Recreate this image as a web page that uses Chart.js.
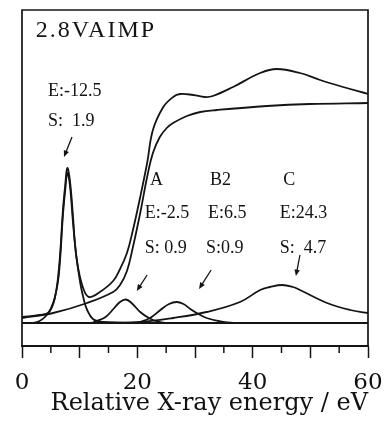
<!DOCTYPE html>
<html><head><meta charset="utf-8">
<script src="https://cdn.jsdelivr.net/npm/chart.js@4.4.1/dist/chart.umd.min.js"></script>
<style>html,body{margin:0;padding:0;background:#fff}#wrap{width:386px;height:424px}</style>
</head><body><div id="wrap"><canvas id="c" width="386" height="424"></canvas></div>
<script>
// ---- data ----
const xSpectrum = [0, 3.1, 4.5, 5.2, 5.7, 6.2, 6.6, 7.1, 7.5, 7.85, 8.3, 8.85, 9.2, 9.7, 10.6, 11.6, 13.5, 15.8, 17.0, 18.2, 19.2, 20.5, 21.7, 22.7, 24.5, 26.2, 27.4, 29.7, 31.7, 33.1, 36.6, 41.3, 44.2, 48.2, 51.7, 55.7, 60];
const ySpectrum = [0.06, 0.08, 0.10, 0.16, 0.25, 0.43, 0.68, 1.13, 1.38, 1.55, 1.43, 1.06, 0.78, 0.56, 0.35, 0.26, 0.31, 0.42, 0.54, 0.70, 0.92, 1.26, 1.60, 1.93, 2.16, 2.26, 2.29, 2.28, 2.26, 2.27, 2.36, 2.50, 2.54, 2.50, 2.43, 2.36, 2.29];

const xStep = [0, 5.4, 11.3, 15.8, 17.0, 18.2, 19.2, 20.5, 21.7, 22.7, 23.9, 25.1, 26.2, 28.6, 30.9, 33.8, 42.5, 49.9, 60];
const yStep = [0.05, 0.10, 0.20, 0.31, 0.38, 0.52, 0.75, 1.10, 1.46, 1.70, 1.86, 1.95, 2.00, 2.07, 2.11, 2.13, 2.17, 2.19, 2.20];

const xPeak = [0, 2.6, 4.3, 5.4, 6.2, 6.6, 7.1, 7.5, 7.85, 8.3, 8.85, 9.4, 10.1, 10.7, 11.3, 12.3, 14, 20];
const yPeak = [0, 0.01, 0.08, 0.20, 0.40, 0.63, 1.08, 1.33, 1.50, 1.38, 1.00, 0.68, 0.40, 0.24, 0.13, 0.04, 0.01, 0];

const xPeakA = [12, 13, 14.5, 16, 17, 18, 19, 20.5, 22, 23.5, 25];
const yPeakA = [0, 0.02, 0.06, 0.15, 0.21, 0.235, 0.20, 0.11, 0.05, 0.015, 0];

const xPeakB2 = [20, 22.2, 24, 25.5, 26.8, 28, 29.2, 30.3, 32, 34.9, 37];
const yPeakB2 = [0, 0.05, 0.13, 0.19, 0.21, 0.19, 0.14, 0.10, 0.05, 0.01, 0];

const xPeakC = [10, 15, 20.5, 26.2, 32, 37.8, 41.3, 43, 45.1, 47, 48.2, 52.9, 56.9, 60];
const yPeakC = [0, 0.003, 0.01, 0.05, 0.11, 0.21, 0.33, 0.36, 0.38, 0.36, 0.33, 0.20, 0.13, 0.10];

const xBaseline = [0, 60];
const yBaseline = [0, 0];

const xTickLabels = ['0', '20', '40', '60'];
const xAxisTitle = 'Relative X-ray energy / eV';

// ---- annotation layout (data coordinates) ----
const annotations = [
  {t: '2.8VAIMP', x: 2.4, y: 2.92, font: '24px "Liberation Serif"', sp: '2px'},
  {t: 'E:-12.5', x: 4.5, y: 2.32},
  {t: 'S:  1.9', x: 4.5, y: 2.02},
  {t: 'A', x: 22.2, y: 1.43},
  {t: 'B2', x: 32.6, y: 1.43},
  {t: 'C', x: 45.3, y: 1.43},
  {t: 'E:-2.5', x: 21.3, y: 1.10},
  {t: 'E:6.5', x: 32.25, y: 1.10},
  {t: 'E:24.3', x: 44.7, y: 1.10},
  {t: 'S: 0.9', x: 21.3, y: 0.75},
  {t: 'S:0.9', x: 31.9, y: 0.75},
  {t: 'S:  4.7', x: 44.7, y: 0.75}
];
const arrows = [
  [8.67, 1.86, 7.28, 1.66],
  [21.7, 0.48, 19.9, 0.32],
  [32.8, 0.53, 30.7, 0.34],
  [48.2, 0.68, 47.5, 0.47]
];

const pts = (xs, ys) => xs.map((x, i) => ({x, y: ys[i]}));
const lineDs = (xs, ys, w) => ({
  data: pts(xs, ys), borderColor: '#141414', borderWidth: w || 1.8,
  pointRadius: 0, fill: false, tension: 0.4
});

const decor = {
  id: 'decor',
  afterDatasetsDraw(chart) {
    const ctx = chart.ctx, a = chart.chartArea;
    const xs = chart.scales.x, ys = chart.scales.y;
    ctx.save();
    ctx.strokeStyle = '#141414';
    ctx.lineWidth = 1.7;
    ctx.beginPath();
    ctx.moveTo(a.left, a.bottom); ctx.lineTo(a.left, a.top);
    ctx.lineTo(a.right, a.top); ctx.lineTo(a.right, a.bottom);
    ctx.stroke();
    // minor ticks
    ctx.lineWidth = 1.5;
    for (let v = 5; v < 60; v += 10) {
      const px = xs.getPixelForValue(v);
      ctx.beginPath(); ctx.moveTo(px, a.bottom); ctx.lineTo(px, a.bottom + 7); ctx.stroke();
    }
    // arrows
    ctx.lineWidth = 1.3;
    ctx.fillStyle = '#141414';
    arrows.forEach(([x1, y1, x2, y2]) => {
      const p1x = xs.getPixelForValue(x1), p1y = ys.getPixelForValue(y1);
      const p2x = xs.getPixelForValue(x2), p2y = ys.getPixelForValue(y2);
      const ang = Math.atan2(p2y - p1y, p2x - p1x);
      ctx.beginPath(); ctx.moveTo(p1x, p1y);
      ctx.lineTo(p2x - 4 * Math.cos(ang), p2y - 4 * Math.sin(ang)); ctx.stroke();
      ctx.beginPath();
      ctx.moveTo(p2x, p2y);
      ctx.lineTo(p2x - 7 * Math.cos(ang - 0.4), p2y - 7 * Math.sin(ang - 0.4));
      ctx.lineTo(p2x - 7 * Math.cos(ang + 0.4), p2y - 7 * Math.sin(ang + 0.4));
      ctx.closePath(); ctx.fill();
    });
    // texts
    ctx.textAlign = 'left';
    ctx.textBaseline = 'middle';
    annotations.forEach(o => {
      ctx.font = o.font || '18px "Liberation Serif"';
      if ('letterSpacing' in ctx) ctx.letterSpacing = o.sp || '0px';
      ctx.fillText(o.t, xs.getPixelForValue(o.x), ys.getPixelForValue(o.y));
    });
    if ('letterSpacing' in ctx) ctx.letterSpacing = '0px';
    ctx.restore();
  }
};

new Chart(document.getElementById('c'), {
  type: 'line',
  data: {
    datasets: [
      lineDs(xBaseline, yBaseline, 2),
      lineDs(xPeakC, yPeakC),
      lineDs(xPeakB2, yPeakB2),
      lineDs(xPeakA, yPeakA),
      lineDs(xPeak, yPeak),
      lineDs(xStep, yStep),
      lineDs(xSpectrum, ySpectrum)
    ]
  },
  options: {
    responsive: false,
    devicePixelRatio: 1,
    animation: false,
    layout: {padding: {left: 22, right: 18, top: 10, bottom: 0}},
    plugins: {legend: {display: false}, tooltip: {enabled: false}},
    scales: {
      x: {
        type: 'linear', min: 0, max: 60,
        afterFit: s => { s.height = 78; s.paddingLeft = 0; s.paddingRight = 0; },
        ticks: {
          stepSize: 10, autoSkip: false, maxRotation: 0, color: '#111', padding: 11,
          font: {family: '"DejaVu Serif"', size: 23},
          callback: v => (v % 20 === 0 ? xTickLabels[v / 20] : '')
        },
        grid: {drawOnChartArea: false, drawTicks: true, tickLength: 12, tickWidth: 1.5, tickColor: '#141414'},
        border: {display: true, color: '#141414', width: 2},
        title: {display: true, align: 'end', text: xAxisTitle, color: '#111',
          font: {family: '"DejaVu Serif"', size: 24}, padding: {top: 0, bottom: 6}}
      },
      y: {
        type: 'linear', min: -0.23, max: 3.13, display: false
      }
    }
  },
  plugins: [decor]
});
</script>
</body></html>
